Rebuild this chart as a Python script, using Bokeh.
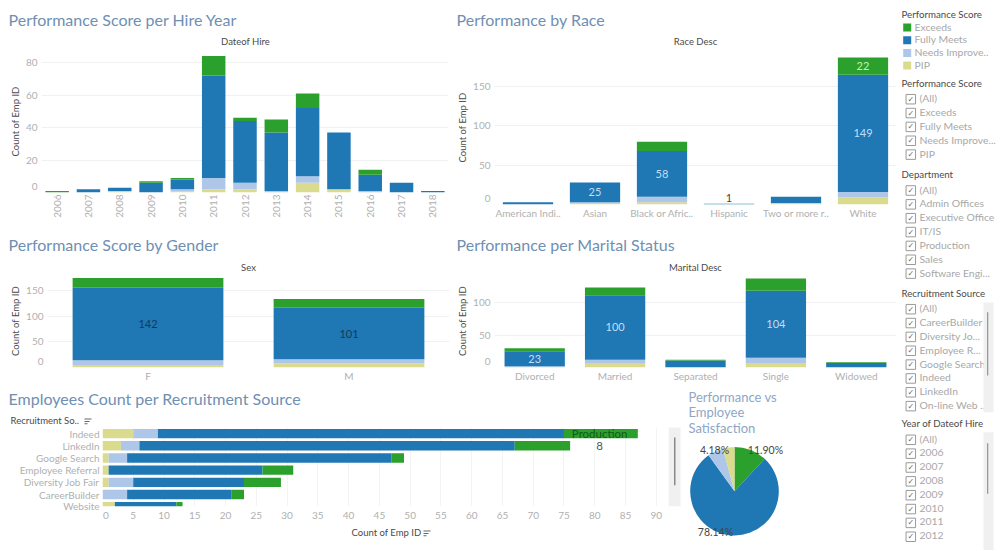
from bokeh.embed import file_html
from bokeh.resources import INLINE
from bokeh.plotting import figure
from bokeh.layouts import row, column
from bokeh.models import ColumnDataSource, FactorRange, Range1d, FixedTicker

# ---------- data ----------
scores = ["PIP", "Needs Improve..", "Fully Meets", "Exceeds"]
colors = ["#dbdb8d", "#aec7e8", "#1f77b4", "#2ca02c"]

years = ["2006","2007","2008","2009","2010","2011","2012","2013","2014","2015","2016","2017","2018"]
year_pip = [0,0,1,0,1,2,2,0,6,2,0,0,0]
year_ni  = [0,0,0,0,1,7,4,1,4,0,1,0,0]
year_fm  = [0,2,2,6,6,63,38,36,42,35,10,6,1]
year_ex  = [1,0,0,1,1,12,2,8,9,0,3,0,0]

races = ["American Indi..","Asian","Black or Afric..","Hispanic","Two or more r..","White"]
race_pip = [0,1,3,0,2,9]
race_ni  = [0,2,7,0,0,7]
race_fm  = [3,25,58,1,8,149]
race_ex  = [0,0,12,0,0,22]
race_fm_labels = ["","25","58","","","149"]

sexes = ["F","M"]
sex_pip = [5,8]
sex_ni  = [9,8]
sex_fm  = [142,101]
sex_ex  = [19,17]

marital = ["Divorced","Married","Separated","Single","Widowed"]
mar_pip = [0,6,0,6,0]
mar_ni  = [2,6,0,9,0]
mar_fm  = [23,100,11,104,7]
mar_ex  = [5,12,1,19,1]
mar_labels = ["23","100","","104",""]

sources = ["Indeed","LinkedIn","Google Search","Employee Referral","Diversity Job Fair","CareerBuilder","Website"]
src_pip = [5,3,1,1,1,0,2]
src_ni  = [4,3,3,0,4,4,0]
src_fm  = [66,61,43,25,18,17,10]
src_ex  = [12,9,2,5,6,2,1]

pie_share = [11.90, 78.14, 5.78, 4.18]
pie_colors = ["#2ca02c", "#1f77b4", "#aec7e8", "#dbdb8d"]

filter_scores = ["(All)","Exceeds","Fully Meets","Needs Improve...","PIP"]
filter_depts = ["(All)","Admin Offices","Executive Office","IT/IS","Production","Sales","Software Engi..."]
filter_sources = ["(All)","CareerBuilder","Diversity Jo...","Employee R...","Google Search","Indeed","LinkedIn","On-line Web ..."]
filter_years = ["(All)","2006","2007","2008","2009","2010","2011","2012"]

# ---------- style ----------
TITLE_FONT = "Lato"
TEXT_FONT = "Lato"
TITLE_COLOR = "#6f8fb3"
TICK_COLOR = "#b0b0b0"
HEAD_COLOR = "#4a4a4a"

def fig(w, h, left=0, right=0, top=0, bottom=0, **kw):
    p = figure(width=w, height=h, frame_width=w-left-right, frame_height=h-top-bottom,
               min_border_left=left, min_border_right=right, min_border_top=top, min_border_bottom=bottom,
               output_backend="svg", toolbar_location=None, frame_align=False, **kw)
    p.outline_line_color = None
    p.background_fill_color = "white"
    return p

def strip(x0, y0, w, h):
    """A text-only band addressed in page pixels."""
    p = fig(w, h, x_range=Range1d(x0, x0 + w), y_range=Range1d(y0 + h, y0))
    p.xaxis.visible = False
    p.yaxis.visible = False
    p.grid.visible = False
    return p

def put(p, x, y, s, size=11, color=HEAD_COLOR, align="left", font=TEXT_FONT):
    p.text(x=[x], y=[y - 1], text=[s], text_color=color, text_font={"value": font}, text_font_size=f"{size}px",
           text_align=align, text_baseline="middle")

def sort_icon(p, x, y):
    for i, w in enumerate([7, 5, 3]):
        p.quad(left=[x], right=[x + w], top=[y + i*2.4], bottom=[y + i*2.4 + 1], fill_color="#666666", line_color=None)

def style_axes(p, size=10):
    for ax in (p.xaxis[0], p.yaxis[0]):
        ax.axis_line_color = None
        ax.major_tick_line_color = None
        ax.minor_tick_line_color = None
        ax.major_tick_out = 0
        ax.major_tick_in = 0
        ax.minor_tick_out = 0
        ax.major_label_text_color = TICK_COLOR
        ax.major_label_text_font = TEXT_FONT
        ax.major_label_text_font_size = f"{size}px"
    p.xaxis[0].major_label_standoff = 2
    p.yaxis[0].major_label_standoff = 4
    p.yaxis[0].axis_label = "Count of Emp ID"
    p.yaxis[0].axis_label_text_font = TEXT_FONT
    p.yaxis[0].axis_label_text_font_style = "normal"
    p.yaxis[0].axis_label_text_font_size = "9.5px"
    p.yaxis[0].axis_label_text_color = HEAD_COLOR
    p.yaxis[0].axis_label_standoff = 2
    p.xgrid.visible = False
    p.ygrid.grid_line_color = "#f1f1f1"

def stacked(cats, series, ymax, ticks, w, h, left, right, top, bottom, bar=0.75):
    data = dict(cat=cats)
    for name, values in zip(scores, series):
        data[name] = values
    p = fig(w, h, left, right, top, bottom, x_range=FactorRange(factors=cats), y_range=Range1d(0, ymax))
    p.vbar_stack(scores, x="cat", width=bar, color=colors, line_color=None, source=ColumnDataSource(data))
    style_axes(p)
    # the zero label is nudged just above the baseline so that it stays inside the view
    nudge = 6 * ymax / (h - top - bottom)
    p.yaxis[0].ticker = FixedTicker(ticks=[nudge] + [t for t in ticks if t])
    p.yaxis[0].major_label_overrides = {nudge: "0"}
    p.ygrid.ticker = FixedTicker(ticks=[t for t in ticks if t])
    return p

def values(p, cats, mids, labels, color):
    p.text(x=cats, y=mids, text=labels, text_color=color, text_font={"value": TEXT_FONT},
           text_font_size="11px", text_align="center", text_baseline="middle")

# ---------- chart 1 ----------
h1 = strip(0, 0, 450, 50)
put(h1, 8, 20, "Performance Score per Hire Year", 16, TITLE_COLOR, "left", TITLE_FONT)
put(h1, 245, 42, "Dateof Hire", 9.5, HEAD_COLOR, "center")
p1 = stacked(years, [year_pip, year_ni, year_fm, year_ex], 87.4, [0,20,40,60,80], 450, 185, 41, 2, 0, 43)
p1.xaxis[0].major_label_orientation = 1.5708

# ---------- chart 2 ----------
h2 = strip(450, 0, 446, 50)
put(h2, 456, 20, "Performance by Race", 16, TITLE_COLOR, "left", TITLE_FONT)
put(h2, 695, 42, "Race Desc", 9.5, HEAD_COLOR, "center")
p2 = stacked(races, [race_pip, race_ni, race_fm, race_ex], 196, [0,50,100,150], 446, 185, 44, 0, 0, 31)
race_mid = [a + b + c/2 for a, b, c in zip(race_pip, race_ni, race_fm)]
values(p2, races, race_mid, race_fm_labels, "#c3def5")
values(p2, races[-1:], [race_pip[-1] + race_ni[-1] + race_fm[-1] + race_ex[-1] / 2], [str(race_ex[-1])], "#c4f0bc")
p2.text(x=[races[3]], y=[race_fm[3]], text=[str(race_fm[3])], y_offset=-6, text_color="#444444",
        text_font={"value": TEXT_FONT}, text_font_size="11px", text_align="center", text_baseline="middle")

# ---------- chart 3 ----------
h3 = strip(0, 235, 450, 38)
put(h3, 8, 245, "Performance Score by Gender", 16, TITLE_COLOR, "left", TITLE_FONT)
put(h3, 248, 267.5, "Sex", 9.5, HEAD_COLOR, "center")
p3 = stacked(sexes, [sex_pip, sex_ni, sex_fm, sex_ex], 182, [0,50,100,150], 450, 115, 47, 1, 1, 21)
sex_mid = [a + b + c/2 for a, b, c in zip(sex_pip, sex_ni, sex_fm)]
values(p3, sexes, sex_mid, [str(v) for v in sex_fm], "#0f3a5f")

# ---------- chart 4 ----------
h4 = strip(450, 235, 446, 38)
put(h4, 456, 245, "Performance per Marital Status", 16, TITLE_COLOR, "left", TITLE_FONT)
put(h4, 695, 267.5, "Marital Desc", 9.5, HEAD_COLOR, "center")
p4 = stacked(marital, [mar_pip, mar_ni, mar_fm, mar_ex], 144, [0,50,100], 446, 115, 44, 0, 1, 21)
mar_mid = [a + b + c/2 for a, b, c in zip(mar_pip, mar_ni, mar_fm)]
values(p4, marital, mar_mid, mar_labels, "#c3def5")

# ---------- chart 5 ----------
h5 = strip(0, 388, 668, 39)
put(h5, 8, 399, "Employees Count per Recruitment Source", 16, TITLE_COLOR, "left", TITLE_FONT)
put(h5, 10, 421, "Recruitment So..", 9.5, HEAD_COLOR, "left")
sort_icon(h5, 84, 418)
rows = list(range(len(sources)))
src_data = dict(row=rows)
for name, vals in zip(scores, [src_pip, src_ni, src_fm, src_ex]):
    src_data[name] = vals
p5 = fig(668, 98, 102, 3, 0, 19, y_range=Range1d(5.98, -0.5), x_range=Range1d(0, 91.5))
p5.hbar_stack(scores, y="row", height=0.77, color=colors, line_color=None, source=ColumnDataSource(src_data))
style_axes(p5)
p5.yaxis[0].axis_label = None
p5.xaxis[0].ticker = FixedTicker(ticks=[0.55] + list(range(5, 95, 5)))
p5.xaxis[0].major_label_overrides = {0.55: "0"}
p5.xaxis[0].major_label_standoff = 5
# the last row runs off the view's lower edge, its label stays just inside
p5.yaxis[0].ticker = FixedTicker(ticks=rows[:-1] + [5.9])
p5.yaxis[0].major_label_overrides = {**{i: s for i, s in enumerate(sources[:-1])}, 5.9: sources[-1]}
p5.yaxis[0].major_label_standoff = 3
p5.ygrid.visible = False
p5.xgrid.visible = True
p5.xgrid.ticker = FixedTicker(ticks=list(range(5, 95, 5)))
p5.xgrid.grid_line_color = "#f3f3f3"
overlay = ["Production", "8"]
p5.text(x=[80.8], y=[rows[0]], text=[overlay[0]], text_color="#0e5c17", text_font={"value": TEXT_FONT},
        text_font_size="11.5px", text_align="center", text_baseline="middle")
p5.text(x=[80.8], y=[rows[1]], text=[overlay[1]], text_color="#555555", text_font={"value": TEXT_FONT},
        text_font_size="11.5px", text_align="center", text_baseline="middle")
f5 = strip(0, 525, 668, 25)
put(f5, 351, 533, "Count of Emp ID", 9.5, HEAD_COLOR, "left")
sort_icon(f5, 423, 530)

# ---------- pie ----------
PX, PY = 734, 490.7
p6 = fig(228, 162, x_range=Range1d(668 - PX, 896 - PX), y_range=Range1d(PY - 550, PY - 388))
p6.xaxis.visible = False
p6.yaxis.visible = False
p6.grid.visible = False
angle = 1.5707963
starts, ends = [], []
for s in pie_share:
    starts.append(angle)
    angle -= s / sum(pie_share) * 6.2831853
    ends.append(angle)
p6.wedge(x=0, y=0, radius=44.3, start_angle=starts, end_angle=ends, direction="clock",
         fill_color=pie_colors, line_color=None)
# view scrollbar of the bar chart on its left
p6.quad(left=[668 - PX], right=[680 - PX], top=[PY - 427], bottom=[PY - 505.7], fill_color="#f0f0f0", line_color=None)
p6.quad(left=[673.5 - PX], right=[675 - PX], top=[PY - 437], bottom=[PY - 484.7], fill_color="#888888", line_color=None)
def pie_text(x, y, s, size, color, align):
    p6.text(x=[x - PX], y=[PY - y + 1], text=[s], text_color=color, text_font={"value": TEXT_FONT},
            text_font_size=f"{size}px", text_align=align, text_baseline="middle")
for i, line in enumerate(["Performance vs", "Employee", "Satisfaction"]):
    pie_text(688, 397 + i*15.7, line, 13, "#8ea6c6", "left")
pie_text(714, 450, f"{pie_share[3]:.2f}%", 10.5, "#444444", "center")
pie_text(765, 450, f"{pie_share[0]:.2f}%", 10.5, "#444444", "center")
pie_text(715, 532, f"{pie_share[1]:.2f}%", 10.5, "#444444", "center")

# ---------- sidebar ----------
side = strip(896, 0, 104, 550)

def filter_block(head, items, head_y, first_y):
    put(side, 901, head_y, head, 9.7)
    for i, it in enumerate(items):
        y = first_y + i * 13.85
        side.rect(x=[910.3], y=[y], width=9.5, height=9.5, fill_color="white", line_color="#9a9a9a", line_width=1)
        side.text(x=[910.3], y=[y], text=["\u2713"], text_color="#666666", text_font={"value": "DejaVu Sans"},
                  text_font_size="8px", text_align="center", text_baseline="middle")
        put(side, 919, y, it, 10.4, "#a8a8a8")

put(side, 901, 14, "Performance Score", 9.7)
for i, (name, c) in enumerate(zip(reversed(scores), reversed(colors))):
    y = 27 + i * 12.7
    side.rect(x=[906.7], y=[y], width=8, height=8, fill_color=c, line_color=None)
    put(side, 914, y, name, 10.4, "#a8a8a8")

filter_block("Performance Score", filter_scores, 83, 98.7)
filter_block("Department", filter_depts, 174, 190)
filter_block("Recruitment Source", filter_sources, 293.3, 308.7)
filter_block("Year of Dateof Hire", filter_years, 423.7, 439.3)

for top, bottom, t0, t1 in [(302, 411.7, 311.7, 375), (431.7, 550, 442.7, 493.3)]:
    side.quad(left=[983], right=[993], top=[top], bottom=[bottom], fill_color="#f0f0f0", line_color=None)
    side.quad(left=[986.5], right=[987.8], top=[t0], bottom=[t1], fill_color="#999999", line_color=None)

left_col = column(
    row(column(h1, p1, spacing=0), column(h2, p2, spacing=0), spacing=0),
    row(column(h3, p3, spacing=0), column(h4, p4, spacing=0), spacing=0),
    row(column(h5, p5, f5, spacing=0), p6, spacing=0),
    spacing=0)
layout = row(left_col, side, spacing=0)
open("out.html", "w").write(file_html(layout, INLINE))
